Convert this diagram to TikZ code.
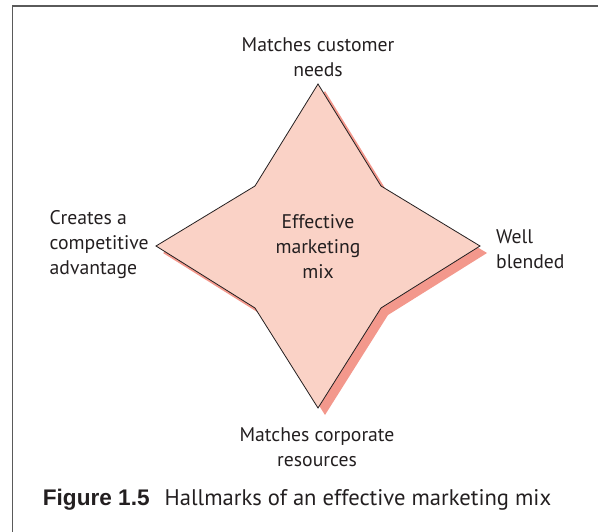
\documentclass[tikz,border=0pt]{standalone}
\usepackage{fontspec}
\setmainfont{PT Sans}
\newfontfamily\capfont{Liberation Sans}
\usetikzlibrary{positioning}
\definecolor{starfill}{RGB}{250,210,198}
\definecolor{starshade}{RGB}{243,152,140}
\definecolor{inkgray}{RGB}{35,31,32}
\definecolor{framegray}{RGB}{90,90,90}

\begin{document}
\begin{tikzpicture}[x=1pt,y=-1pt,
	hallmark/.style={text=inkgray,font=\fontsize{19.7}{25}\selectfont,inner sep=0pt}]
	\useasboundingbox (0,0) rectangle (598,532);
	\draw[framegray,line width=1.4pt] (12.5,532) -- (12.5,6) -- (598,6);

	% points of the star
	\coordinate (N) at (318,84);
	\coordinate (NE) at (381,186);
	\coordinate (E) at (480,246);
	\coordinate (SE) at (381,308);
	\coordinate (S) at (318,408);
	\coordinate (SW) at (255,308);
	\coordinate (W) at (156,246);
	\coordinate (NW) at (255,186);

	\fill[starshade] ([shift={(7,7)}]N) -- ([shift={(7,7)}]NE) -- ([shift={(7,7)}]E) -- ([shift={(7,7)}]SE)
		-- ([shift={(7,7)}]S) -- ([shift={(7,7)}]SW) -- ([shift={(7,7)}]W) -- ([shift={(7,7)}]NW) -- cycle;
	\draw[fill=starfill,draw=inkgray,line width=0.8pt,line join=miter] (N) -- (NE) -- (E) -- (SE) -- (S) -- (SW) -- (W) -- (NW) -- cycle;

	\begin{scope}[every node/.style={hallmark}]
		\node[align=center] (needs) at (318,57) {Matches customer\\needs};
		\node[align=center] (mix) at (318,247) {Effective\\marketing\\mix};
		\node[align=left,anchor=west] (advantage) at (49.5,245) {Creates a\\competitive\\advantage};
		\node[align=left,anchor=west] (blended) at (496,249) {Well\\blended};
		\node[align=center] (resources) at (317,447) {Matches corporate\\resources};
	\end{scope}

	\node[anchor=west,inner sep=0pt,text=inkgray,font=\fontsize{22.6}{26}\selectfont] (caption) at (42.7,500)
		{{\capfont\bfseries Figure 1.5}\hspace{0.4em} Hallmarks of an effective marketing mix};
\end{tikzpicture}
\end{document}
